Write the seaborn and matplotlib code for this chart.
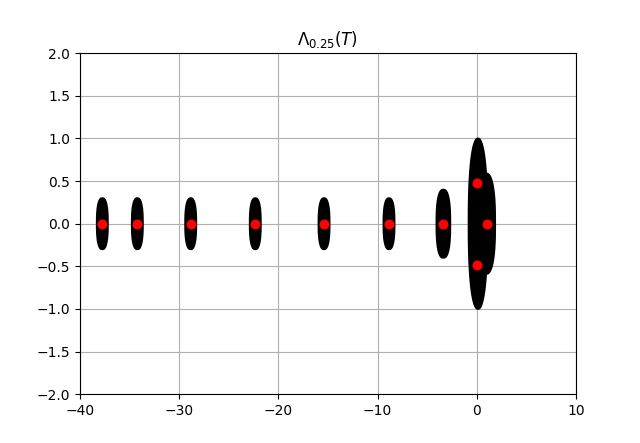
import numpy as np
import pandas as pd
import matplotlib
matplotlib.use("Agg")
import matplotlib.pyplot as plt
import seaborn as sns

# eigenvalues (red dots)
eig_re = [-37.75, -34.22, -28.84, -22.33, -15.40, -8.85, -3.37, 0.05, 0.05, 1.06]
eig_im = [0.0, 0.0, 0.0, 0.0, 0.0, 0.0, 0.0, 0.48, -0.48, 0.0]

# pseudospectrum blobs (black regions): centre, half-width, half-height
blob_x = [-37.75, -34.22, -28.84, -22.33, -15.40, -8.85, -3.37, 0.12, 0.90]
blob_hw = [0.65, 0.65, 0.65, 0.65, 0.65, 0.65, 0.79, 1.04, 1.04]
blob_hh = [0.31, 0.31, 0.31, 0.31, 0.31, 0.31, 0.41, 1.01, 0.60]

fig, ax = plt.subplots(figsize=(6.4, 4.43), dpi=100)
ax.grid(True)

# blob outline: rounded (super-elliptic) shape
t = np.linspace(0, 2 * np.pi, 300)
ct, st = np.cos(t), np.sin(t)
for i, (x, hw, hh) in enumerate(zip(blob_x, blob_hw, blob_hh)):
    n = 2.4 if i == 7 else 2.6
    ux = np.sign(ct) * np.abs(ct) ** (2 / n)
    uy = np.sign(st) * np.abs(st) ** (2 / n)
    ax.fill(x + hw * ux, hh * uy, color="black", lw=0, zorder=2)

df = pd.DataFrame({"re": eig_re, "im": eig_im})
sns.scatterplot(data=df, x="re", y="im", color="red", s=52, linewidth=0,
                zorder=3, ax=ax)
ax.set_xlabel("")
ax.set_ylabel("")
ax.set_xlim(-40, 10)
ax.set_ylim(-2, 2)
ax.set_title(r"$\Lambda_{0.25}(T)$")

fig.savefig("out.png")
